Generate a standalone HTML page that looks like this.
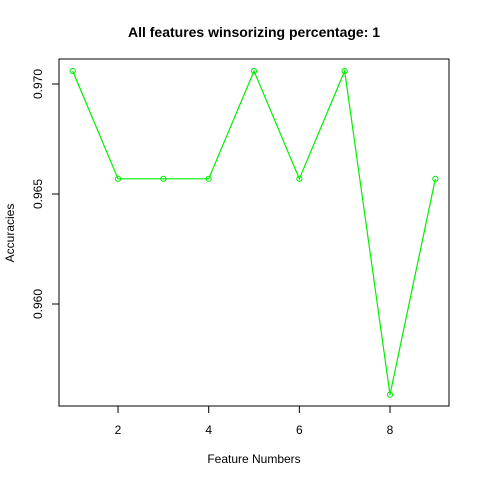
<!DOCTYPE html>
<html><head><meta charset="utf-8"><style>body{margin:0;background:#fff}svg{display:block}text{font-family:"Liberation Sans",Arial,sans-serif}</style></head>
<body>
<svg id="chart" width="480" height="480" xmlns="http://www.w3.org/2000/svg">
<rect width="480" height="480" fill="#fff"/>
<text x="254" y="37" text-anchor="middle" font-size="14" font-weight="bold">All features winsorizing percentage: 1</text>
<rect x="59" y="59" width="390" height="347" fill="none" stroke="#000" stroke-width="1"/>
<text x="254" y="463" text-anchor="middle" font-size="12">Feature Numbers</text>
<text transform="translate(14,233) rotate(-90)" text-anchor="middle" font-size="12">Accuracies</text>
<g id="axes"></g>
<g id="series"></g>
</svg>
<script>
const features=[1,2,3,4,5,6,7,8,9];
const accuracies=[0.97059,0.96569,0.96569,0.96569,0.97059,0.96569,0.97059,0.95588,0.96569];
const xTicks=[2,4,6,8];
const yTicks=[0.960,0.965,0.970];
const yTickLabels=["0.960","0.965","0.970"];
const NS="http://www.w3.org/2000/svg";
function x(v){return 72.7+(v-1)*45.33;}
function y(v){return 194-(v-0.965)*22000;}
function mk(t,a,p){const e=document.createElementNS(NS,t);for(const k in a)e.setAttribute(k,a[k]);p.appendChild(e);return e;}
const ax=document.getElementById('axes'),se=document.getElementById('series');
xTicks.forEach(v=>{
 const l=mk('line',{x1:x(v),x2:x(v),y1:406,y2:413,stroke:'#000'},ax);
 
 
 const t=mk('text',{x:x(v),y:434,'text-anchor':'middle','font-size':12},ax);
 
 
 t.textContent=v;
});
yTicks.forEach((v,i)=>{
 const l=mk('line',{x1:52,x2:59,y1:y(v),y2:y(v),stroke:'#000'},ax);
 
 
 const t=mk('text',{transform:`translate(42,${y(v)}) rotate(-90)`,'text-anchor':'middle','font-size':12},ax);
 
 
 t.textContent=yTickLabels[i];
});
const pl=mk('polyline',{points:features.map((f,i)=>x(f)+','+y(accuracies[i])).join(' '),fill:'none',stroke:'#00ee00','stroke-width':1.2},se);


features.forEach((f,i)=>{
 const c=mk('circle',{cx:x(f),cy:y(accuracies[i]),r:2.6,fill:'none',stroke:'#00ee00','stroke-width':1},se);
 
 
});
</script>
</body></html>
